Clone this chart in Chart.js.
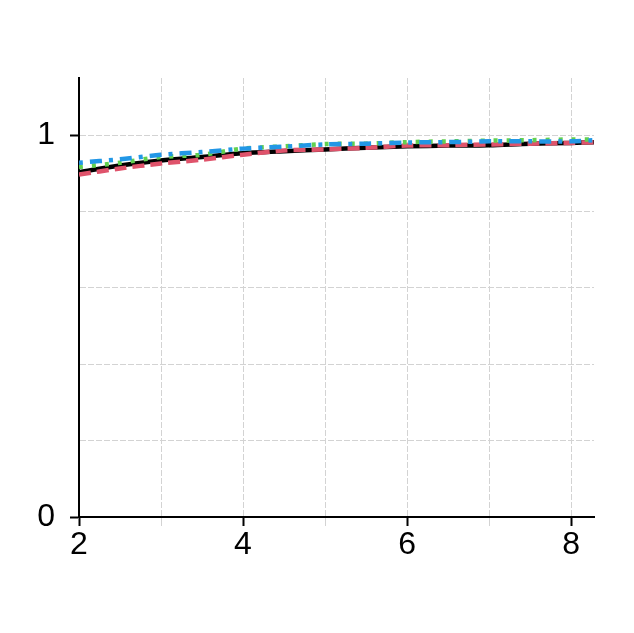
<!DOCTYPE html>
<html>
<head>
    <title>Curves</title>
    <script src="https://cdn.jsdelivr.net/npm/chart.js"></script>
    <style>
        body { margin: 0; background: white; }
        #wrap { width: 634px; height: 633px; }
    </style>
</head>
<body>
    <div id="wrap"><canvas id="chart"></canvas></div>
    <script>
        // values
        const xValues = [2, 2.5, 3, 3.5, 4, 4.5, 5, 5.5, 6, 6.5, 7, 7.5, 8, 8.28];
        const blackValues = [0.903, 0.921, 0.934, 0.943, 0.953, 0.958, 0.963, 0.967, 0.971, 0.973, 0.974, 0.978, 0.980, 0.982];
        const redValues   = [0.897, 0.913, 0.926, 0.936, 0.949, 0.960, 0.963, 0.967, 0.973, 0.974, 0.976, 0.978, 0.980, 0.982];
        const greenValues = [0.917, 0.928, 0.943, 0.949, 0.965, 0.971, 0.977, 0.978, 0.982, 0.984, 0.986, 0.987, 0.989, 0.989];
        const blueValues  = [0.928, 0.937, 0.949, 0.956, 0.965, 0.970, 0.976, 0.978, 0.981, 0.982, 0.984, 0.984, 0.984, 0.987];
        const xLabels = [2, 4, 6, 8];
        const yLabels = [0, 1];

        const pts = vals => vals.map((v, i) => ({ x: xValues[i], y: v }));
        const isLabel = (list, v) => list.some(l => Math.abs(l - v) < 1e-6);
        const font = { family: 'Liberation Sans, Arial', size: 32 };

        function line(vals, color, dash, order) {
            return {
                data: pts(vals), borderColor: color, borderWidth: 4.5, borderDash: dash,
                pointRadius: 0, tension: 0.3, fill: false, order: order
            };
        }

        // gridline positions every `step` between min and max
        function steps(min, max, step) {
            const out = [];
            for (let v = min; v <= max + 1e-9; v += step) out.push({ value: Math.round(v * 1000) / 1000 });
            return out;
        }

        new Chart(document.getElementById('chart'), {
            type: 'line',
            data: {
                datasets: [
                    line(blackValues, '#000000', [], 4),
                    line(redValues, '#DF536B', [12, 6], 3),
                    line(greenValues, '#61D04F', [4, 9], 2),
                    line(blueValues, '#2297E6', [4, 7, 12, 7], 1)
                ]
            },
            options: {
                responsive: true,
                maintainAspectRatio: false,
                animation: false,
                layout: { padding: { top: 78, right: 40, left: 0, bottom: 0 } },
                plugins: { legend: { display: false }, tooltip: { enabled: false } },
                scales: {
                    x: {
                        type: 'linear', min: 2, max: 8.28,
                        afterBuildTicks: s => { s.ticks = steps(2, 8, 1); },
                        afterFit: s => { s.height = 116; },
                        ticks: {
                            autoSkip: false, maxRotation: 0, color: '#000', font: font, padding: 0,
                            callback: v => isLabel(xLabels, v) ? String(v) : ''
                        },
                        grid: {
                            color: '#d3d3d3', borderDash: [5, 4], tickLength: 9,
                            tickColor: c => isLabel(xLabels, c.tick.value) ? '#000' : '#d3d3d3',
                            tickWidth: c => isLabel(xLabels, c.tick.value) ? 2 : 1
                        },
                        border: { display: true, color: '#000', width: 2, dash: [6, 2] }
                    },
                    y: {
                        min: 0, max: 1.15,
                        afterBuildTicks: s => { s.ticks = steps(0, 1, 0.2); },
                        afterFit: s => { s.width = 79; },
                        ticks: {
                            autoSkip: false, color: '#000', font: font, padding: 15,
                            callback: v => isLabel(yLabels, v) ? String(Math.round(v)) : ''
                        },
                        grid: {
                            color: '#d3d3d3', borderDash: [5, 4], tickLength: 9,
                            tickColor: c => isLabel(yLabels, c.tick.value) ? '#000' : 'rgba(0,0,0,0)',
                            tickWidth: 2
                        },
                        border: { display: true, color: '#000', width: 2, dash: [6, 2] }
                    }
                }
            }
        });
    </script>
</body>
</html>
